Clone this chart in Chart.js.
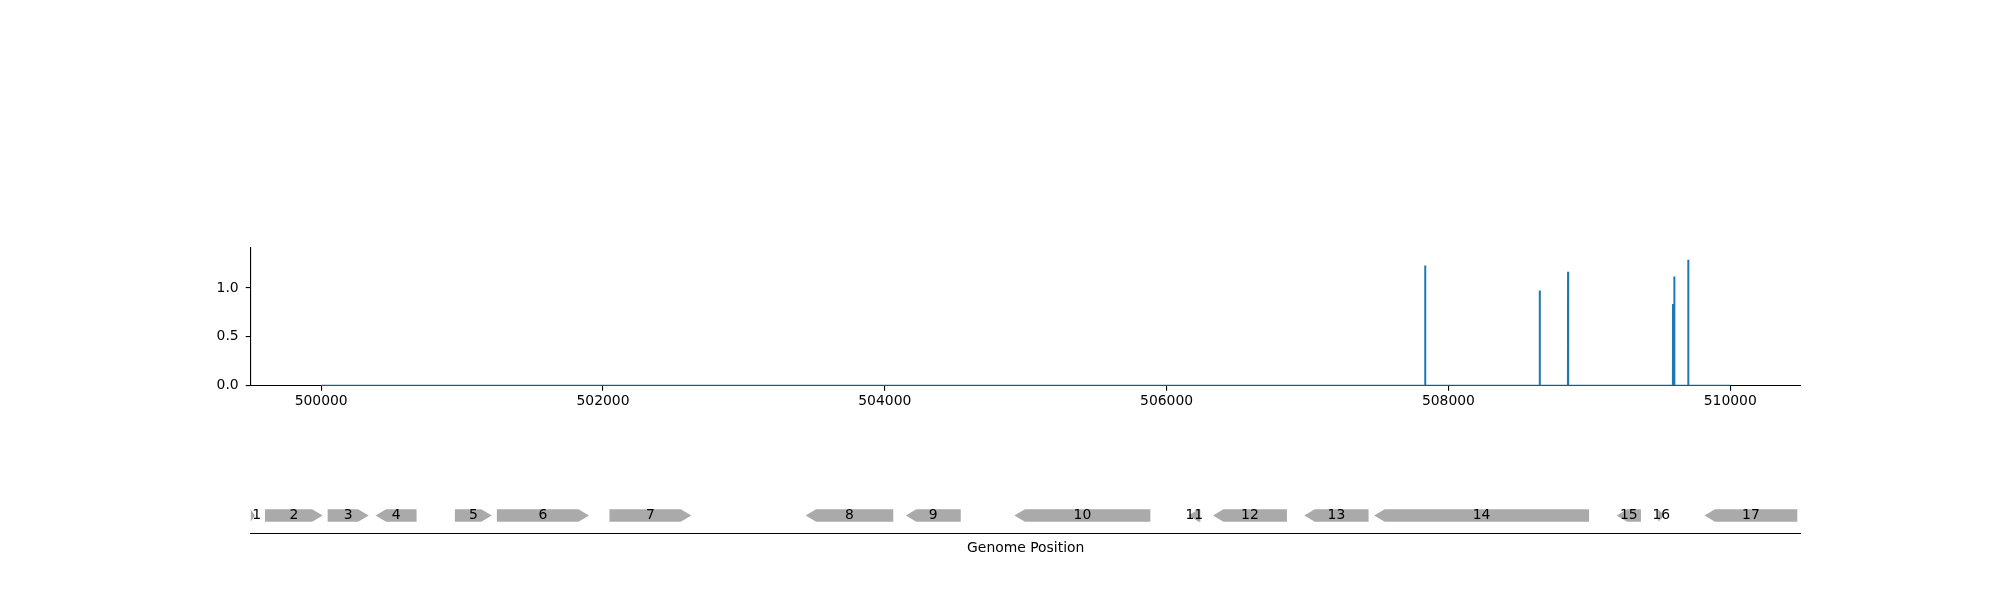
<!DOCTYPE html>
<html>
<head>
<meta charset="utf-8">
<script src="https://cdn.jsdelivr.net/npm/chart.js@4.4.0/dist/chart.umd.min.js"></script>
<style>
  html, body { margin: 0; padding: 0; background: #fff; }
  #wrap { position: relative; width: 2000px; height: 600px; }
  canvas { position: absolute; left: 0; }
</style>
</head>
<body>
<div id="wrap">
  <canvas id="coverage" width="2000" height="600" style="top:0"></canvas>
  <canvas id="genes" width="2000" height="120" style="top:480px"></canvas>
</div>
<script>
// axis range and ticks
const xMin = 499500, xMax = 510500;
const seqStart = 500000, seqEnd = 510000;
const xTicks = [500000, 502000, 504000, 506000, 508000, 510000];
const yTicks = [0, 0.5, 1.0];
const yMax = 1.41;

// coverage peaks (everything else is 0)
const peakPos = [507835, 508648, 508849, 509594, 509603, 509702];
const peakVal = [1.23, 0.975, 1.167, 0.836, 1.119, 1.29];

// gene features
const geneLabels = ['1', '2', '3', '4', '5', '6', '7', '8', '9', '10', '11', '12', '13', '14', '15', '16', '17'];
const geneStart = [499500, 499601, 500046, 500386, 500949, 501247, 502046, 503438, 504149, 504920, 506154, 506329, 506977, 507473, 509194, 509489, 509817];
const geneEnd   = [499530, 500011, 500337, 500677, 501211, 501901, 502627, 504060, 504539, 505885, 506239, 506854, 507433, 508998, 509366, 509532, 510476];
const geneStrand = [1, 1, 1, -1, 1, 1, 1, -1, -1, -1, -1, -1, -1, -1, -1, 1, -1];

Chart.defaults.font.family = 'DejaVu Sans';
Chart.defaults.font.size = 13.9;
Chart.defaults.color = '#000';

const coverage = [{x: seqStart, y: 0}];
peakPos.forEach((p, i) => {
  coverage.push({x: p - 1, y: 0}, {x: p, y: peakVal[i]}, {x: p + 1, y: 0});
});
coverage.push({x: seqEnd, y: 0});

new Chart(document.getElementById('coverage'), {
  type: 'line',
  data: {
    datasets: [{
      data: coverage,
      borderColor: '#1f77b4',
      borderWidth: 2,
      pointRadius: 0,
      tension: 0,
      fill: false
    }]
  },
  options: {
    responsive: false,
    animation: false,
    devicePixelRatio: 1,
    layout: { padding: { left: 0, right: 199.3, top: 248, bottom: 174.3 } },
    plugins: { legend: { display: false }, tooltip: { enabled: false } },
    scales: {
      x: {
        type: 'linear', min: xMin, max: xMax,
        afterBuildTicks: s => { s.ticks = xTicks.map(v => ({ value: v })); },
        afterFit: s => { s.height = 40; },
        grid: { drawOnChartArea: false, tickLength: 5, color: '#000', lineWidth: 1.1 },
        border: { display: true, color: '#000', width: 1.1 },
        ticks: { padding: 2, maxRotation: 0, autoSkip: false, callback: v => String(v) }
      },
      y: {
        min: 0, max: yMax,
        afterBuildTicks: s => { s.ticks = yTicks.map(v => ({ value: v })); },
        afterFit: s => { s.width = 250.7; },
        grid: { drawOnChartArea: false, tickLength: 5, color: '#000', lineWidth: 1.1 },
        border: { display: true, color: '#000', width: 1.1 },
        ticks: { padding: 7, callback: v => v.toFixed(1) }
      }
    }
  }
});

// draws gene arrows on the track using the x scale
const genePlugin = {
  id: 'genes',
  afterDatasetsDraw(chart) {
    const { ctx, chartArea, scales: { x, y } } = chart;
    const yc = y.getPixelForValue(0);
    const h = 12.4;
    ctx.save();
    ctx.beginPath();
    ctx.rect(chartArea.left, 0, chartArea.right - chartArea.left, chart.height);
    ctx.clip();
    ctx.fillStyle = '#aaaaaa';
    geneStart.forEach((s, i) => {
      const x0 = x.getPixelForValue(s);
      const x1 = x.getPixelForValue(geneEnd[i]);
      const head = Math.min(10.5, x1 - x0);
      ctx.beginPath();
      if (geneStrand[i] > 0) {
        ctx.moveTo(x0, yc - h / 2);
        ctx.lineTo(x1 - head, yc - h / 2);
        ctx.lineTo(x1, yc);
        ctx.lineTo(x1 - head, yc + h / 2);
        ctx.lineTo(x0, yc + h / 2);
      } else {
        ctx.moveTo(x1, yc - h / 2);
        ctx.lineTo(x0 + head, yc - h / 2);
        ctx.lineTo(x0, yc);
        ctx.lineTo(x0 + head, yc + h / 2);
        ctx.lineTo(x1, yc + h / 2);
      }
      ctx.closePath();
      ctx.fill();
    });
    ctx.restore();

    ctx.save();
    ctx.fillStyle = '#000';
    ctx.font = '13.9px "DejaVu Sans"';
    ctx.textAlign = 'center';
    ctx.textBaseline = 'middle';
    geneLabels.forEach((lab, i) => {
      const xm = x.getPixelForValue((geneStart[i] + geneEnd[i]) / 2);
      ctx.fillText(lab, Math.max(xm, chartArea.left + 6), yc);
    });
    ctx.restore();
  }
};

new Chart(document.getElementById('genes'), {
  type: 'scatter',
  data: { datasets: [] },
  plugins: [genePlugin],
  options: {
    responsive: false,
    animation: false,
    devicePixelRatio: 1,
    layout: { padding: { left: 250.7, right: 199.3, top: 17, bottom: 43.5 } },
    plugins: { legend: { display: false }, tooltip: { enabled: false } },
    scales: {
      x: {
        type: 'linear', min: xMin, max: xMax,
        afterFit: s => { s.height = 22.5; },
        grid: { display: false },
        border: { display: true, color: '#000', width: 1.1 },
        ticks: { display: false },
        title: { display: true, text: 'Genome Position', padding: 0, font: { size: 13.9 } }
      },
      y: { display: false, min: -1, max: 1 }
    }
  }
});
</script>
</body>
</html>
